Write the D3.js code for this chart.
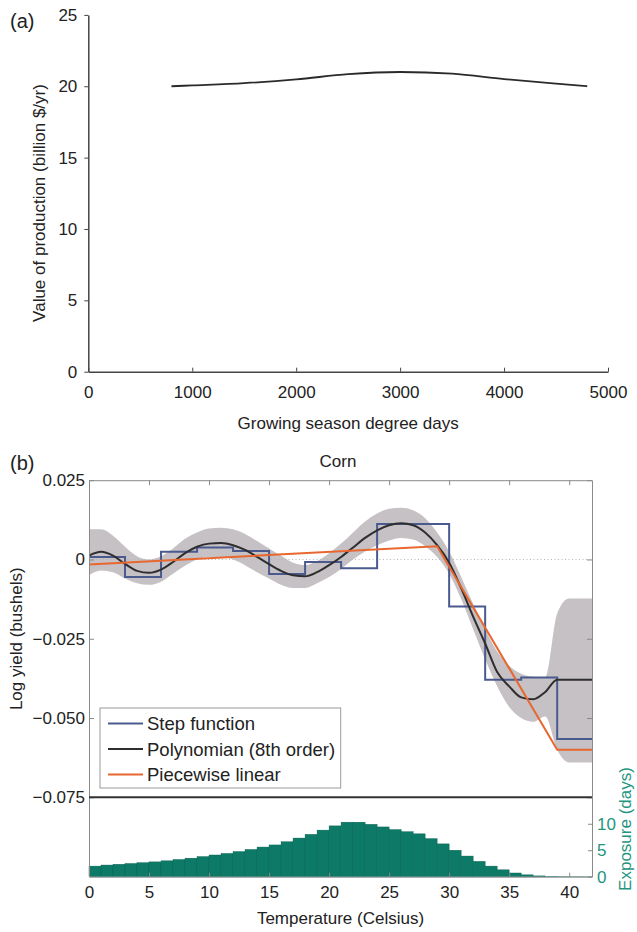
<!DOCTYPE html>
<html>
<head>
<meta charset="utf-8">
<script src="https://cdn.jsdelivr.net/npm/d3@7"></script>
<style>
  body { margin: 0; background: #fff; }
  text { font-family: "Liberation Sans", Arial, sans-serif; }
</style>
</head>
<body>
<svg id="chart"></svg>
<script>
const WIDTH = 637
const HEIGHT = 932
const FONT = 17

// panel (a): value of production vs growing season degree days
const degreeDays = [800, 1000, 1500, 2000, 2500, 3000, 3500, 4000, 4500, 4800]
const production = [20.0, 20.06, 20.22, 20.48, 20.85, 21.0, 20.88, 20.5, 20.18, 20.0]
const prodTicks = [0, 5, 10, 15, 20, 25]
const ddTicks = [0, 1000, 2000, 3000, 4000, 5000]

// panel (b): corn log yield vs temperature
const stepEdges = [0, 3, 6, 9, 12, 15, 18, 21, 24, 27, 30, 33, 36, 39]
const stepValues = [0.0008, -0.0055, 0.0024, 0.0038, 0.0027, -0.0046, -0.0008, -0.0028,
  0.0112, 0.0112, -0.0148, -0.0379, -0.0372, -0.0566]

const polyTemps = d3.range(0, 43)
const polyValues = [0.0012, 0.0024, 0.0012, -0.0014, -0.0036, -0.0042, -0.0032, -0.0008,
  0.0020, 0.0040, 0.0050, 0.0052, 0.0045, 0.0030, 0.0008, -0.0015, -0.0036, -0.0050,
  -0.0053, -0.0040, -0.0018, 0.0008, 0.0038, 0.0068, 0.0092, 0.0108, 0.0114, 0.0108,
  0.0085, 0.0045, -0.0010, -0.0090, -0.0180, -0.0265, -0.0355, -0.0400, -0.0435,
  -0.0441, -0.0418, -0.0379, -0.0379, -0.0379, -0.0379]
const bandUpper = [0.0095, 0.0095, 0.0075, 0.0040, 0.0010, 0.0000, 0.0010, 0.0035,
  0.0065, 0.0085, 0.0098, 0.0100, 0.0095, 0.0080, 0.0058, 0.0035, 0.0012, -0.0010,
  -0.0018, -0.0005, 0.0020, 0.0050, 0.0085, 0.0120, 0.0145, 0.0160, 0.0163, 0.0155,
  0.0130, 0.0085, 0.0025, -0.0055, -0.0140, -0.0220, -0.0290, -0.0335, -0.0360,
  -0.0370, -0.0372, -0.0170, -0.0123, -0.0123, -0.0123]
const bandLower = [-0.0050, -0.0035, -0.0040, -0.0060, -0.0075, -0.0080, -0.0070, -0.0045,
  -0.0020, 0.0000, 0.0008, 0.0008, 0.0000, -0.0018, -0.0040, -0.0060, -0.0080, -0.0090,
  -0.0090, -0.0075, -0.0055, -0.0030, 0.0000, 0.0025, 0.0045, 0.0060, 0.0068, 0.0063,
  0.0042, 0.0008, -0.0045, -0.0125, -0.0220, -0.0315, -0.0400, -0.0465, -0.0500,
  -0.0512, -0.0495, -0.0600, -0.0640, -0.0640, -0.0640]

const linTemps = [0, 29, 39, 42]
const linValues = [-0.0016, 0.0042, -0.0600, -0.0600]

// exposure histogram, 1 degree bins starting at 0
const exposureDays = [2.0, 2.2, 2.35, 2.5, 2.65, 2.8, 3.0, 3.25, 3.5, 3.8, 4.1, 4.4, 4.75,
  5.15, 5.6, 6.0, 6.6, 7.3, 8.0, 8.8, 9.6, 10.3, 10.3, 9.9, 9.4, 8.9, 8.5, 8.1, 7.2,
  6.2, 5.0, 3.9, 2.9, 2.0, 1.3, 0.7, 0.35, 0.15, 0.08, 0.04, 0.02, 0.01]

const yieldTicks = [0.025, 0, -0.025, -0.05, -0.075]
const tempTicks = [0, 5, 10, 15, 20, 25, 30, 35, 40]
const exposureTicks = [0, 5, 10]

const legendItems = [
  { name: "Step function", color: "#4b5a8e" },
  { name: "Polynomian (8th order)", color: "#2e2e2e" },
  { name: "Piecewise linear", color: "#e8672f" }
]

let svg = d3.select("#chart")
  .attr("width", WIDTH)
  .attr("height", HEIGHT)

function styleAxis(g, color, textColor) {
  g.select(".domain").attr("stroke", color)
  g.selectAll(".tick line").attr("stroke", color)
  g.selectAll(".tick text")
    .attr("fill", textColor)
    .style("font-size", FONT + "px")
    .style("font-family", '"Liberation Sans", Arial, sans-serif')
}

// ---------- panel (a) ----------
let xA = d3.scaleLinear().domain([0, 5000]).range([88.3, 608])
let yA = d3.scaleLinear().domain([0, 25]).range([371.7, 14.9])

svg.append("g")
  .attr("transform", `translate(0, ${yA(0)})`)
  .call(d3.axisBottom(xA).tickValues(ddTicks).tickFormat(d3.format("d"))
    .tickSizeInner(-4).tickSizeOuter(0).tickPadding(14))
  .call(g => styleAxis(g, "#444", "#222"))
  .call(g => g.select(".domain").attr("stroke-width", 1.5))

svg.append("g")
  .attr("transform", `translate(${xA(0)}, 0)`)
  .call(d3.axisLeft(yA).tickValues(prodTicks).tickSizeInner(4).tickSizeOuter(0).tickPadding(7))
  .call(g => styleAxis(g, "#444", "#222"))
  .call(g => g.select(".domain").attr("stroke-width", 1.5))

let prodLine = d3.line()
  .x((d, i) => xA(degreeDays[i]))
  .y(d => yA(d))
  .curve(d3.curveMonotoneX)

svg.append("path")
  .attr("d", prodLine(production))
  .attr("fill", "none")
  .attr("stroke", "#2a2a2a")
  .attr("stroke-width", 1.8)

svg.append("text").text("(a)")
  .attr("x", 10).attr("y", 28)
  .style("font-size", "20px").attr("fill", "#222")

svg.append("text").text("Value of production (billion $/yr)")
  .attr("transform", "translate(45, 203) rotate(-90)")
  .attr("text-anchor", "middle")
  .style("font-size", FONT + "px").attr("fill", "#222")

svg.append("text").text("Growing season degree days")
  .attr("x", (xA(0) + xA(5000)) / 2).attr("y", 429)
  .attr("text-anchor", "middle")
  .style("font-size", FONT + "px").attr("fill", "#222")

// ---------- panel (b) ----------
const LEFT = 89, RIGHT = 592
let xB = d3.scaleLinear().domain([0, 41.9]).range([LEFT, RIGHT])
let yB = d3.scaleLinear().domain([-0.075, 0.025]).range([797.3, 480.2])
let yH = d3.scaleLinear().domain([0, 15]).range([876.7, 797.3])

svg.append("defs").append("clipPath").attr("id", "plotClip")
  .append("rect")
  .attr("x", LEFT).attr("y", yB(0.025))
  .attr("width", RIGHT - LEFT).attr("height", yB(-0.075) - yB(0.025))

let plot = svg.append("g").attr("clip-path", "url(#plotClip)")

let band = d3.area()
  .x((d, i) => xB(polyTemps[i]))
  .y0((d, i) => yB(bandLower[i]))
  .y1(d => yB(d))
  .curve(d3.curveMonotoneX)

plot.append("path")
  .attr("d", band(bandUpper))
  .attr("fill", "#c5c1c5")

plot.append("line")
  .attr("x1", LEFT).attr("x2", RIGHT)
  .attr("y1", yB(0)).attr("y2", yB(0))
  .attr("stroke", "#b5b5b5")
  .attr("stroke-width", 1)
  .attr("stroke-dasharray", "1,2.5")

let stepPoints = stepEdges.map((t, i) => [t, stepValues[i]])
stepPoints.push([41.9, stepValues[stepValues.length - 1]])

let stepLine = d3.line()
  .x(d => xB(d[0]))
  .y(d => yB(d[1]))
  .curve(d3.curveStepAfter)

plot.append("path")
  .attr("d", stepLine(stepPoints))
  .attr("fill", "none")
  .attr("stroke", legendItems[0].color)
  .attr("stroke-width", 2)

let polyLine = d3.line()
  .x((d, i) => xB(polyTemps[i]))
  .y(d => yB(d))
  .curve(d3.curveMonotoneX)

plot.append("path")
  .attr("d", polyLine(polyValues))
  .attr("fill", "none")
  .attr("stroke", legendItems[1].color)
  .attr("stroke-width", 2)

let linLine = d3.line()
  .x((d, i) => xB(linTemps[i]))
  .y(d => yB(d))

plot.append("path")
  .attr("d", linLine(linValues))
  .attr("fill", "none")
  .attr("stroke", legendItems[2].color)
  .attr("stroke-width", 2)

// histogram
svg.append("g")
  .selectAll("rect")
  .data(exposureDays)
  .enter()
  .append("rect")
  .attr("x", (d, i) => xB(i))
  .attr("width", (d, i) => xB(Math.min(i + 1, 41.9)) - xB(i))
  .attr("y", d => yH(d))
  .attr("height", d => yH(0) - yH(d))
  .attr("fill", "#0c7a67")
  .attr("stroke", "#0a5f51")
  .attr("stroke-width", 0.4)

// axes and frame
svg.append("g")
  .attr("transform", `translate(${LEFT}, 0)`)
  .call(d3.axisLeft(yB).tickValues(yieldTicks).tickSizeInner(-5).tickSizeOuter(0).tickPadding(4)
    .tickFormat(d => d === 0 ? "0" : (d < 0 ? "\u2212" : "") + Math.abs(d).toFixed(3)))
  .call(g => styleAxis(g, "#8a8a8a", "#222"))

svg.append("g")
  .attr("transform", `translate(${RIGHT}, 0)`)
  .call(d3.axisRight(yB).tickValues(yieldTicks).tickSizeInner(-5).tickSizeOuter(0).tickFormat(""))
  .call(g => styleAxis(g, "#8a8a8a", "#222"))

svg.append("g")
  .attr("transform", `translate(0, ${yB(0.025)})`)
  .call(d3.axisTop(xB).tickValues(tempTicks).tickSizeInner(-5).tickSizeOuter(0).tickFormat(""))
  .call(g => styleAxis(g, "#8a8a8a", "#222"))

svg.append("g")
  .attr("transform", `translate(0, ${yH(0)})`)
  .call(d3.axisBottom(xB).tickValues(tempTicks).tickSizeInner(-4).tickSizeOuter(0).tickPadding(9))
  .call(g => styleAxis(g, "#8a8a8a", "#222"))

svg.append("g")
  .attr("transform", `translate(${LEFT}, 0)`)
  .call(d3.axisLeft(yH).tickValues([]).tickSizeOuter(0))
  .call(g => styleAxis(g, "#8a8a8a", "#222"))

svg.append("g")
  .attr("transform", `translate(${RIGHT}, 0)`)
  .call(d3.axisRight(yH).tickValues(exposureTicks).tickSizeInner(-4).tickSizeOuter(0).tickPadding(5))
  .call(g => styleAxis(g, "#8a8a8a", "#23957f"))

svg.append("line")
  .attr("x1", LEFT).attr("x2", RIGHT)
  .attr("y1", yB(-0.075)).attr("y2", yB(-0.075))
  .attr("stroke", "#333")
  .attr("stroke-width", 2)

// legend
let legend = svg.append("g").attr("transform", "translate(100, 708)")
legend.append("rect")
  .attr("width", 240.7).attr("height", 80)
  .attr("fill", "#fff")
  .attr("stroke", "#9a9a9a")
  .attr("stroke-width", 1)

legendItems.forEach((item, i) => {
  let row = legend.append("g").attr("transform", `translate(0, ${15.5 + i * 25.5})`)
  row.append("line")
    .attr("x1", 8).attr("x2", 43)
    .attr("stroke", item.color)
    .attr("stroke-width", 2)
  row.append("text").text(item.name)
    .attr("x", 47).attr("y", 6.5)
    .style("font-size", "18.5px").attr("fill", "#222")
})

// labels
svg.append("text").text("(b)")
  .attr("x", 10).attr("y", 470)
  .style("font-size", "20px").attr("fill", "#222")

svg.append("text").text("Corn")
  .attr("x", 338).attr("y", 467)
  .attr("text-anchor", "middle")
  .style("font-size", FONT + "px").attr("fill", "#222")

svg.append("text").text("Log yield (bushels)")
  .attr("transform", `translate(22, ${(yB(0.025) + yB(-0.075)) / 2}) rotate(-90)`)
  .attr("text-anchor", "middle")
  .style("font-size", FONT + "px").attr("fill", "#222")

svg.append("text").text("Temperature (Celsius)")
  .attr("x", (LEFT + RIGHT) / 2).attr("y", 924)
  .attr("text-anchor", "middle")
  .style("font-size", FONT + "px").attr("fill", "#222")

svg.append("text").text("Exposure (days)")
  .attr("transform", "translate(631, 829) rotate(-90)")
  .attr("text-anchor", "middle")
  .style("font-size", FONT + "px").attr("fill", "#23957f")
</script>
</body>
</html>
